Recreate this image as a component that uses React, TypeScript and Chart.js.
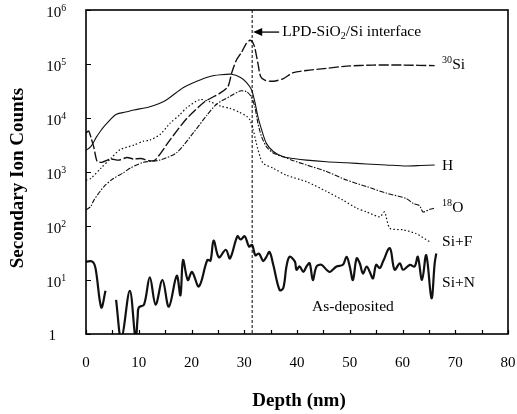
import React, { useEffect, useRef } from "react";
import { Chart, registerables } from "chart.js";

Chart.register(...registerables);

// ---------- data (depth in nm, secondary ion counts) ----------
const si30Depth = [0, 0.5, 1.0, 1.5, 2.1, 3.0, 4.7, 6.2, 7.8, 9.0, 10.4, 12.0, 13.1, 15.9, 19.1, 22.5, 25.4, 26.9, 27.6, 28.5, 29.5, 30.4, 31.1, 31.6, 32.0, 32.6, 33.1, 33.9, 35.0, 36.1, 37.4, 39.3, 41.8, 45.6, 49.4, 54.4, 60.0, 66.1];
const si30Counts = [5250, 5750, 4170, 2820, 1580, 1510, 1740, 1660, 1860, 1740, 1780, 1620, 1660, 3890, 9770, 20000, 28800, 38000, 67600, 117000, 166000, 240000, 275000, 251000, 200000, 102000, 58900, 50100, 47900, 49000, 53700, 69200, 75900, 83200, 91200, 95500, 95500, 93300];

const hDepth = [0, 0.9, 2.0, 2.7, 3.4, 5.6, 7.5, 9.1, 12.1, 15.0, 18.4, 21.0, 23.5, 25.5, 27.6, 29.3, 30.4, 31.4, 32.0, 32.6, 33.3, 34.2, 35.5, 37.4, 39.3, 41.8, 45.6, 49.4, 53.2, 56.9, 60.7, 63.5, 66.1];
const hCounts = [2510, 2950, 4470, 5620, 6920, 11500, 12900, 14100, 16200, 20900, 36300, 47900, 58900, 63100, 64600, 56200, 45700, 33100, 20000, 10500, 6030, 3390, 2400, 1910, 1780, 1660, 1550, 1480, 1410, 1350, 1290, 1320, 1350];

const o18Depth = [0, 0.9, 1.5, 3.4, 5.2, 7.0, 8.5, 10.9, 14.0, 17.2, 20.3, 22.9, 24.8, 27.3, 29.2, 30.4, 31.3, 32.0, 32.6, 33.3, 34.2, 35.5, 37.4, 39.3, 41.8, 45.6, 49.4, 53.2, 56.9, 60.7, 62.0, 63.2, 63.9, 65.2, 66.1];
const o18Counts = [200, 229, 302, 537, 759, 955, 1200, 1510, 1660, 2290, 5250, 11200, 18200, 25100, 31600, 30900, 25100, 16200, 7940, 4470, 2950, 2240, 1910, 1620, 1350, 1020, 708, 537, 407, 324, 263, 240, 182, 204, 214];

const siFDepth = [0, 0.9, 2.8, 4.7, 6.4, 9.1, 10.9, 12.1, 14.1, 15.9, 17.8, 19.1, 21.6, 23.5, 25.5, 27.3, 29.0, 30.5, 31.1, 31.7, 32.3, 33.0, 33.6, 35.5, 38.0, 41.8, 45.6, 48.7, 51.3, 53.2, 55.7, 56.6, 57.6, 60.1, 62.6, 65.2];
const siFCounts = [708, 759, 1170, 1780, 2570, 3160, 3720, 3890, 5010, 7940, 11500, 15500, 21900, 20000, 16600, 15100, 12900, 10700, 9120, 6030, 3390, 1910, 1450, 1170, 871, 661, 437, 302, 214, 182, 148, 182, 91, 85, 72, 51];

const siNDepth = [0, 1.2, 1.8, 2.9, 3.7, 4.7, 5.7, 6.7, 8.3, 9.4, 9.8, 10.0, 11.0, 12.1, 13.2, 14.5, 15.7, 17.2, 17.9, 18.4, 19.3, 20.1, 21.4, 23.0, 23.6, 24.2, 25.2, 26.5, 27.3, 28.7, 29.3, 30.1, 30.9, 31.5, 32.1, 32.8, 33.6, 34.2, 34.8, 35.5, 36.7, 37.4, 38.0, 38.6, 39.6, 39.9, 40.5, 41.2, 41.8, 42.4, 43.0, 43.7, 44.6, 45.6, 46.2, 47.5, 48.7, 49.4, 50.0, 50.6, 51.3, 51.9, 52.5, 53.2, 53.8, 54.4, 55.0, 55.7, 56.3, 57.6, 58.5, 59.5, 60.1, 61.4, 62.3, 62.9, 63.7, 64.5, 65.5, 66.1, 66.4];
const siNCounts: (number | null)[] = [21.9, 21.9, 16.6, 3.1, 6.3, null, 4.3, 0.8, 6.3, 0.8, 2.1, 3.1, 3.5, 11.2, 3.5, 10, 3.2, 12, 5.2, 23.4, 10, 14.1, 7.6, 23.4, 22.9, 53.7, 26.3, 36.3, 25.1, 64.6, 56.2, 64.6, 41.7, 44.7, 28.8, 30.9, 22.4, 26.9, 33.1, 19.1, 6.5, 7.1, 17.8, 26.9, 21.9, 15.5, 17.8, 14.1, 17.8, 20.4, 10, 17.8, 19.1, 15.5, 14.1, 17.8, 19.1, 26.9, 17.8, 10, 25.1, 20.4, 13.2, 17.8, 14.1, 10.7, 19.1, 16.6, 21.9, 38.9, 15.5, 20.4, 15.5, 19.1, 17.8, 26.9, 10, 28.8, 4.6, 20.4, 30.9];

const xTickLabels = [0, 10, 20, 30, 40, 50, 60, 70, 80];
const xMinorTicks = [0, 5, 10, 15, 20, 25, 30, 35, 40, 45, 50, 55, 60, 65, 70, 75, 80];
const yDecades = [1, 10, 100, 1000, 10000, 100000, 1000000];
const yExponents = ["", "1", "2", "3", "4", "5", "6"];
const interfaceDepth = 31.5;

// ---------- drawing helpers ----------
const FONT = '"Liberation Serif", "Times New Roman", serif';
type Part = [string, number]; // 0 normal, 1 superscript, -1 subscript

function partSize(k: number, size: number) {
  return k === 0 ? size : size * 0.65;
}
function partsWidth(ctx: CanvasRenderingContext2D, parts: Part[], size: number, bold = false) {
  let w = 0;
  for (const [t, k] of parts) {
    ctx.font = `${bold ? "bold " : ""}${partSize(k, size)}px ${FONT}`;
    w += ctx.measureText(t).width;
  }
  return w;
}
function drawParts(ctx: CanvasRenderingContext2D, parts: Part[], x: number, y: number, size: number, align: "left" | "right" | "center", bold = false) {
  const total = partsWidth(ctx, parts, size, bold);
  let cx = align === "left" ? x : align === "right" ? x - total : x - total / 2;
  ctx.textAlign = "left";
  ctx.textBaseline = "middle";
  for (const [t, k] of parts) {
    ctx.font = `${bold ? "bold " : ""}${partSize(k, size)}px ${FONT}`;
    const dy = k === 1 ? -size * 0.3 : k === -1 ? size * 0.28 : 0;
    ctx.fillText(t, cx, y + dy);
    cx += ctx.measureText(t).width;
  }
}

const seriesLabels: { parts: Part[]; x: number; y: number; align: "left" | "center" }[] = [
  { parts: [["30", 1], ["Si", 0]], x: 67.5, y: 95000, align: "left" },
  { parts: [["H", 0]], x: 67.5, y: 1300, align: "left" },
  { parts: [["18", 1], ["O", 0]], x: 67.5, y: 215, align: "left" },
  { parts: [["Si+F", 0]], x: 67.5, y: 50, align: "left" },
  { parts: [["Si+N", 0]], x: 67.5, y: 9, align: "left" },
  { parts: [["As-deposited", 0]], x: 50.6, y: 3.2, align: "center" },
];

const overlayPlugin = {
  id: "overlay",
  afterDraw(chart: any) {
    const { ctx, chartArea: a } = chart;
    const xs = chart.scales.x;
    const ys = chart.scales.y;
    ctx.save();
    ctx.fillStyle = "#000";
    ctx.strokeStyle = "#000";

    // frame
    ctx.lineWidth = 1.6;
    ctx.strokeRect(a.left, a.top, a.right - a.left, a.bottom - a.top);

    // inward ticks
    ctx.lineWidth = 1.2;
    ctx.beginPath();
    for (const v of xMinorTicks) {
      const px = Math.round(xs.getPixelForValue(v)) + 0.5;
      ctx.moveTo(px, a.bottom);
      ctx.lineTo(px, a.bottom - 4);
    }
    for (const v of yDecades) {
      const py = Math.round(ys.getPixelForValue(v)) + 0.5;
      ctx.moveTo(a.left, py);
      ctx.lineTo(a.left + 5, py);
    }
    ctx.stroke();

    // x tick labels
    for (const v of xTickLabels) {
      drawParts(ctx, [[String(v), 0]], xs.getPixelForValue(v), a.bottom + 29, 15, "center");
    }
    // y tick labels
    yDecades.forEach((v, i) => {
      const py = ys.getPixelForValue(v);
      if (i === 0) {
        drawParts(ctx, [["1", 0]], 56, py + 2, 15, "right");
      } else {
        drawParts(ctx, [["10", 0], [yExponents[i], 1]], 66, py + 3, 15, "right");
      }
    });

    // interface dashed line
    const ix = xs.getPixelForValue(interfaceDepth);
    ctx.lineWidth = 1;
    ctx.setLineDash([3, 2]);
    ctx.beginPath();
    ctx.moveTo(ix, a.top);
    ctx.lineTo(ix, a.bottom);
    ctx.stroke();
    ctx.setLineDash([]);

    // arrow + annotation
    const ay = ys.getPixelForValue(390000);
    ctx.beginPath();
    ctx.moveTo(ix + 1, ay);
    ctx.lineTo(ix + 10, ay - 4);
    ctx.lineTo(ix + 10, ay + 4);
    ctx.closePath();
    ctx.fill();
    ctx.lineWidth = 1.3;
    ctx.beginPath();
    ctx.moveTo(ix + 9, ay);
    ctx.lineTo(ix + 27, ay);
    ctx.stroke();
    drawParts(ctx, [["LPD-SiO", 0], ["2", -1], ["/Si interface", 0]], ix + 30, ay, 15.5, "left");

    // series labels
    for (const l of seriesLabels) {
      drawParts(ctx, l.parts, xs.getPixelForValue(l.x), ys.getPixelForValue(l.y), 15.5, l.align);
    }

    // axis titles
    drawParts(ctx, [["Depth (nm)", 0]], (a.left + a.right) / 2 + 2, 401, 19, "center", true);
    ctx.save();
    ctx.translate(18, (a.top + a.bottom) / 2 + 6);
    ctx.rotate(-Math.PI / 2);
    drawParts(ctx, [["Secondary Ion Counts", 0]], 0, 0, 19, "center", true);
    ctx.restore();

    ctx.restore();
  },
};

function toXY(xs: number[], ys: (number | null)[]) {
  return xs.map((x, i) => ({ x, y: ys[i] }));
}

export default function App() {
  const ref = useRef<HTMLCanvasElement>(null);
  useEffect(() => {
    const ink = "#111";
    const chart = new Chart(ref.current!, {
      type: "line",
      data: {
        datasets: [
          { label: "30Si", data: toXY(si30Depth, si30Counts), borderColor: ink, borderWidth: 1.4, borderDash: [10, 2.5], tension: 0.25 },
          { label: "H", data: toXY(hDepth, hCounts), borderColor: ink, borderWidth: 1.1, tension: 0.25 },
          { label: "18O", data: toXY(o18Depth, o18Counts), borderColor: ink, borderWidth: 1.1, borderDash: [5, 1.5, 1.5, 1.5], tension: 0.25 },
          { label: "Si+F", data: toXY(siFDepth, siFCounts), borderColor: ink, borderWidth: 1.2, borderDash: [1.5, 2.2], tension: 0.25 },
          { label: "Si+N", data: toXY(siNDepth, siNCounts), borderColor: ink, borderWidth: 2.2, tension: 0.35, spanGaps: false },
        ] as any,
      },
      options: {
        animation: false,
        responsive: false,
        maintainAspectRatio: false,
        devicePixelRatio: 1,
        elements: { point: { radius: 0, hoverRadius: 0 }, line: { fill: false } },
        layout: { padding: { top: 10, right: 9, left: 0, bottom: 0 } },
        plugins: { legend: { display: false }, tooltip: { enabled: false } },
        scales: {
          x: {
            type: "linear",
            min: 0,
            max: 80,
            grid: { display: false, drawTicks: false },
            border: { display: false },
            ticks: { display: false, stepSize: 10 },
            afterFit: (s: any) => {
              s.height = 80;
            },
          },
          y: {
            type: "logarithmic",
            min: 1,
            max: 1000000,
            grid: { display: false, drawTicks: false },
            border: { display: false },
            ticks: { display: false },
            afterBuildTicks: (s: any) => {
              s.ticks = yDecades.map((v) => ({ value: v }));
            },
            afterFit: (s: any) => {
              s.width = 86;
            },
          },
        },
      } as any,
      plugins: [overlayPlugin],
    });
    return () => chart.destroy();
  }, []);
  return (
    <div style={{ position: "fixed", left: 0, top: 0, width: 517, height: 414, background: "#fff" }}>
      <canvas ref={ref} width={517} height={414} style={{ display: "block", width: 517, height: 414 }} />
    </div>
  );
}
